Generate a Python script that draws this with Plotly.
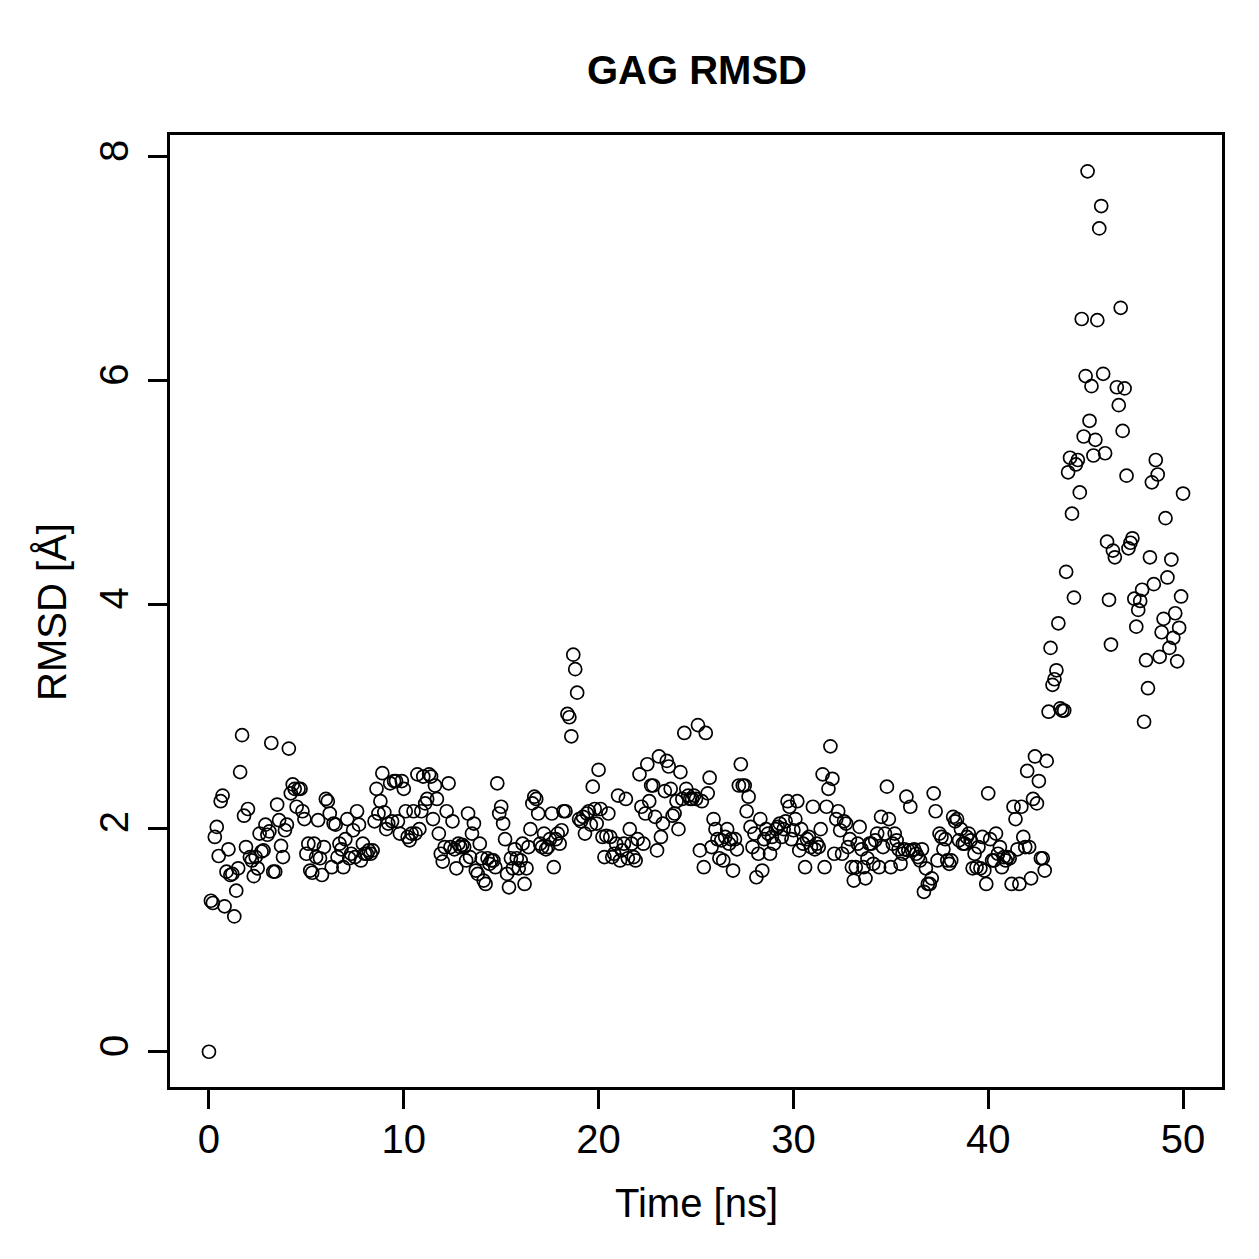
import plotly.graph_objects as go

# RMSD values, one per 0.1 ns from 0.0 to 50.0 ns (rows = 1 ns each)
rmsd_rows = [
    [0.00, 1.35, 1.33, 1.92, 2.01, 1.75, 2.24, 2.29, 1.30, 1.61],
    [1.81, 1.58, 1.59, 1.21, 1.44, 1.64, 2.50, 2.83, 2.11, 1.83],
    [2.17, 1.74, 1.71, 1.57, 1.74, 1.64, 1.95, 1.79, 1.80, 2.03],
    [1.94, 1.97, 2.76, 1.61, 1.61, 2.21, 2.07, 1.84, 1.74, 1.98],
    [2.03, 2.71, 2.31, 2.39, 2.35, 2.19, 2.35, 2.35, 2.15, 2.08],
    [1.77, 1.86, 1.62, 1.60, 1.86, 1.74, 2.07, 1.73, 1.58, 1.83],
    [2.26, 2.24, 2.13, 1.65, 2.04, 2.03, 1.74, 1.86, 1.81, 1.65],
    [1.90, 2.08, 1.73, 1.77, 1.98, 1.74, 2.15, 2.03, 1.71, 1.86],
    [1.77, 1.77, 1.80, 1.77, 1.80, 2.06, 2.35, 2.13, 2.24, 2.49],
    [2.14, 1.99, 2.04, 2.40, 2.06, 2.42, 2.42, 2.06, 1.95, 2.42],
    [2.35, 2.15, 1.92, 1.89, 1.95, 2.15, 1.95, 2.48, 1.99, 2.15],
    [2.46, 2.22, 2.26, 2.48, 2.46, 2.08, 2.38, 2.26, 1.95, 1.77],
    [1.70, 1.83, 2.15, 2.40, 1.83, 2.06, 1.81, 1.64, 1.86, 1.83],
    [1.85, 1.83, 1.71, 2.13, 1.74, 1.95, 2.04, 1.62, 1.59, 1.86],
    [1.73, 1.53, 1.50, 1.73, 1.68, 1.71, 1.71, 1.65, 2.40, 2.13],
    [2.19, 2.04, 1.90, 1.59, 1.47, 1.73, 1.64, 1.81, 1.73, 1.64],
    [1.71, 1.86, 1.50, 1.64, 1.83, 1.99, 2.22, 2.28, 2.26, 2.13],
    [1.86, 1.83, 1.95, 1.81, 1.83, 1.90, 2.13, 1.65, 1.90, 1.95],
    [1.86, 1.98, 2.15, 2.15, 3.02, 2.99, 2.82, 3.55, 3.42, 3.21],
    [2.08, 2.06, 2.10, 1.95, 2.13, 2.15, 2.03, 2.37, 2.17, 2.04],
    [2.52, 2.17, 1.92, 1.74, 1.93, 2.13, 1.92, 1.74, 1.77, 1.86],
    [2.29, 1.71, 1.80, 1.86, 2.26, 1.73, 1.99, 1.86, 1.74, 1.71],
    [1.90, 2.48, 2.19, 1.86, 2.13, 2.57, 2.24, 2.38, 2.38, 2.10],
    [1.80, 2.64, 1.92, 2.04, 2.33, 2.60, 2.55, 2.35, 2.11, 2.13],
    [2.24, 1.99, 2.50, 2.26, 2.85, 2.35, 2.29, 2.26, 2.26, 2.29],
    [2.26, 2.92, 1.80, 2.24, 1.65, 2.85, 2.31, 2.45, 1.83, 2.08],
    [1.99, 1.90, 1.73, 1.89, 1.71, 1.92, 1.99, 1.86, 1.90, 1.62],
    [1.90, 1.81, 2.38, 2.57, 2.38, 2.38, 2.15, 2.28, 2.01, 1.83],
    [1.95, 1.56, 1.77, 2.08, 1.62, 1.90, 1.99, 1.95, 1.77, 1.92],
    [1.86, 1.99, 2.01, 2.04, 1.92, 1.99, 2.06, 2.24, 2.19, 1.90],
    [1.98, 2.08, 2.24, 1.80, 1.99, 1.86, 1.65, 1.90, 1.92, 1.83],
    [2.19, 1.81, 1.86, 1.83, 1.99, 2.48, 1.65, 2.19, 2.35, 2.73],
    [2.44, 1.77, 2.08, 2.15, 1.98, 1.77, 2.06, 2.04, 1.83, 1.90],
    [1.65, 1.53, 1.65, 1.86, 2.01, 1.81, 1.65, 1.55, 1.73, 1.86],
    [1.86, 1.68, 1.89, 1.95, 1.65, 2.10, 1.83, 1.95, 2.37, 2.08],
    [1.65, 1.86, 1.95, 1.89, 1.81, 1.68, 1.77, 1.81, 2.28, 1.80],
    [2.19, 1.80, 1.81, 1.77, 1.74, 1.71, 1.81, 1.43, 1.64, 1.50],
    [1.50, 1.55, 2.31, 2.15, 1.71, 1.95, 1.92, 1.81, 1.90, 1.71],
    [1.68, 1.71, 2.10, 2.06, 2.08, 1.89, 1.99, 1.86, 1.86, 1.92],
    [1.95, 1.89, 1.64, 1.77, 1.65, 1.83, 1.64, 1.92, 1.62, 1.50],
    [2.31, 1.90, 1.71, 1.71, 1.95, 1.77, 1.83, 1.65, 1.74, 1.71],
    [1.74, 1.73, 1.50, 2.19, 2.08, 1.81, 1.50, 2.19, 1.92, 1.83],
    [2.51, 1.83, 1.55, 2.26, 2.64, 2.22, 2.42, 1.73, 1.73, 1.62],
    [2.60, 3.04, 3.61, 3.28, 3.33, 3.41, 3.83, 3.07, 3.05, 3.05],
    [4.29, 5.18, 5.31, 4.81, 4.06, 5.25, 5.29, 5.00, 6.55, 5.50],
    [6.04, 7.87, 5.64, 5.95, 5.33, 5.47, 6.54, 7.36, 7.56, 6.06],
    [5.35, 4.56, 4.04, 3.64, 4.48, 4.42, 5.94, 5.78, 6.65, 5.55],
    [5.93, 5.15, 4.50, 4.55, 4.59, 4.05, 3.80, 3.95, 4.03, 4.13],
    [2.95, 3.50, 3.25, 4.42, 5.09, 4.18, 5.29, 5.16, 3.53, 3.75],
    [3.87, 4.77, 4.24, 3.61, 4.40, 3.70, 3.92, 3.49, 3.79, 4.07],
    [4.99],
]
rmsd = [v for row in rmsd_rows for v in row]
time_ns = [round(i * 0.1, 1) for i in range(len(rmsd))]

x_ticks = [0, 10, 20, 30, 40, 50]
y_ticks = [0, 2, 4, 6, 8]

FONT = "Liberation Sans, Arial, Helvetica, sans-serif"

fig = go.Figure()
fig.add_trace(go.Scatter(
    x=time_ns, y=rmsd, mode="markers",
    marker=dict(symbol="circle-open", size=13, color="black", line=dict(width=1.7, color="black")),
    showlegend=False, hoverinfo="x+y",
))

axis_common = dict(
    showgrid=False, zeroline=False, showline=True, linecolor="black", linewidth=2.5,
    mirror=True, ticks="outside", ticklen=19, tickwidth=2.5, tickcolor="black",
    tickfont=dict(family=FONT, size=40, color="black"),
)

fig.update_layout(
    width=1259, height=1259,
    margin=dict(l=170, r=37, t=135, b=172),
    paper_bgcolor="white", plot_bgcolor="white",
    xaxis=dict(range=[-2, 52], tickvals=x_ticks, ticktext=[str(v) for v in x_ticks],
               ticklabelstandoff=-4, **axis_common),
    yaxis=dict(range=[-0.315, 8.195], tickvals=y_ticks, ticktext=[str(v) for v in y_ticks],
               tickangle=-90, ticklabelstandoff=4, **axis_common),
    annotations=[
        dict(text="<b>GAG RMSD</b>", xref="paper", yref="paper", x=(697 - 170) / 1052, y=(1087 - 70) / 952,
             xanchor="center", yanchor="middle", showarrow=False,
             font=dict(family=FONT, size=40, color="black")),
        dict(text="Time [ns]", xref="paper", yref="paper", x=(696 - 170) / 1052, y=(1087 - 1203) / 952,
             xanchor="center", yanchor="middle", showarrow=False,
             font=dict(family=FONT, size=40, color="black")),
        dict(text="RMSD [Å]", xref="paper", yref="paper", x=(52 - 170) / 1052, y=(1087 - 612) / 952,
             xanchor="center", yanchor="middle", showarrow=False, textangle=-90,
             font=dict(family=FONT, size=40, color="black")),
    ],
)

fig.write_html("out.html")
